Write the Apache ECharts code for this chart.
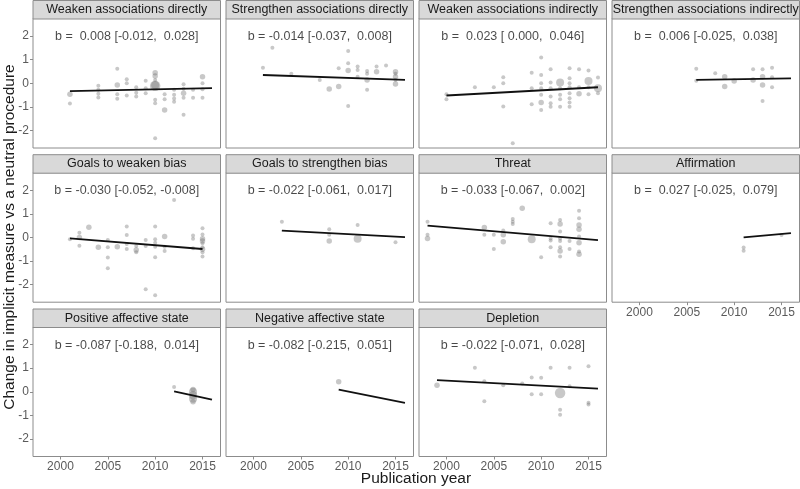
<!DOCTYPE html>
<html>
<head>
<meta charset="utf-8">
<script src="https://cdn.jsdelivr.net/npm/echarts@6/dist/echarts.min.js"></script>
<style>
html, body { margin: 0; padding: 0; background: #fff; }
#chart { width: 800px; height: 489px; }
</style>
</head>
<body>
<div id="chart"></div>
<script>
// panel titles, in facet order (4 columns)
var panelTitles = [
	'Weaken associations directly', 'Strengthen associations directly', 'Weaken associations indirectly', 'Strengthen associations indirectly',
	'Goals to weaken bias', 'Goals to strengthen bias', 'Threat', 'Affirmation',
	'Positive affective state', 'Negative affective state', 'Depletion'
];
var bEst  = [0.008, -0.014, 0.023, 0.006, -0.030, -0.022, -0.033, 0.027, -0.087, -0.082, -0.022];
var bLow  = [-0.012, -0.037, 0.000, -0.025, -0.052, -0.061, -0.067, -0.025, -0.188, -0.215, -0.071];
var bHigh = [0.028, 0.008, 0.046, 0.038, -0.008, 0.017, 0.002, 0.079, 0.014, 0.051, 0.028];

// fitted line end points [year, change]
var fitLines = [
	[[2001, -0.33], [2016, -0.21]],
	[[2001, 0.35], [2016, 0.14]],
	[[2000, -0.52], [2016, -0.17]],
	[[2006, 0.14], [2016, 0.21]],
	[[2001, -0.04], [2015, -0.49]],
	[[2003, 0.29], [2016, 0.01]],
	[[1998, 0.50], [2016, -0.11]],
	[[2011, 0.00], [2016, 0.18]],
	[[2012, 0.02], [2016, -0.33]],
	[[2009, 0.09], [2016, -0.47]],
	[[1999, 0.49], [2016, 0.13]]
];

var xTicks = [2000, 2005, 2010, 2015];
var yTicks = [-2, -1, 0, 1, 2];

// effect points: [year, change, weight class]
var weakenDirect = [
	[2001, -0.47, 2], [2001, -0.86, 1],
	[2004, -0.11, 1], [2004, -0.28, 1], [2004, -0.45, 1], [2004, -0.60, 1],
	[2006, 0.61, 1], [2006, -0.07, 2], [2006, -0.47, 1], [2006, -0.66, 1],
	[2007, 0.17, 1], [2007, 0.00, 1], [2007, -0.52, 1],
	[2008, -0.17, 1], [2008, -0.40, 1], [2008, -0.56, 1],
	[2009, 0.11, 1], [2009, -0.21, 1], [2009, -0.42, 1],
	[2010, 0.45, 2], [2010, 0.31, 2], [2010, 0.14, 1], [2010, -0.11, 4], [2010, -0.08, 3], [2010, -0.70, 1], [2010, -0.85, 1], [2010, -2.33, 1],
	[2011, -0.47, 1], [2011, -0.68, 1], [2011, -1.13, 2],
	[2012, -0.28, 1], [2012, -0.49, 1], [2012, -0.65, 1], [2012, -0.78, 1],
	[2013, -0.04, 1], [2013, -0.23, 1], [2013, -0.42, 2], [2013, -0.61, 1], [2013, -1.34, 1],
	[2014, -0.28, 1], [2014, -0.61, 1],
	[2015, 0.28, 2], [2015, 0.00, 1], [2015, -0.25, 1], [2015, -0.61, 1]
];
var strengthenDirect = [
	[2001, 0.66, 1], [2002, 1.51, 1], [2004, 0.40, 1], [2007, 0.14, 1], [2008, -0.24, 2],
	[2009, 0.64, 1], [2009, -0.14, 2],
	[2010, 1.37, 1], [2010, 0.85, 1], [2010, 0.54, 2], [2010, -0.96, 1],
	[2011, 0.71, 1], [2011, 0.56, 1], [2011, 0.28, 1],
	[2012, 0.52, 1], [2012, 0.40, 1], [2012, 0.14, 2], [2012, -0.28, 1],
	[2013, 0.71, 1], [2013, 0.49, 2],
	[2014, 0.75, 1],
	[2015, 0.49, 2], [2015, 0.40, 1], [2015, 0.28, 2], [2015, 0.14, 1], [2015, -0.03, 2]
];
var weakenIndirect = [
	[2000, -0.47, 1], [2000, -0.68, 1], [2003, -0.17, 1], [2005, -0.17, 1],
	[2006, 0.25, 1], [2006, 0.00, 1], [2006, -0.99, 1], [2007, -2.54, 1],
	[2009, 0.45, 1], [2009, -0.21, 1], [2009, -0.89, 1],
	[2010, 1.09, 1], [2010, 0.35, 1], [2010, 0.00, 1], [2010, -0.21, 1], [2010, -0.49, 1], [2010, -0.82, 2], [2010, -1.13, 1],
	[2011, 0.59, 1], [2011, 0.03, 1], [2011, -0.21, 1], [2011, -0.56, 1], [2011, -0.85, 1], [2011, -1.00, 1],
	[2012, 0.03, 3], [2012, -0.21, 1], [2012, -0.49, 1], [2012, -0.68, 1], [2012, -1.00, 1],
	[2013, 0.64, 1], [2013, 0.21, 1], [2013, 0.00, 1], [2013, -0.17, 1], [2013, -0.42, 1], [2013, -0.64, 1], [2013, -0.82, 1], [2013, -1.00, 1],
	[2014, 0.59, 1], [2014, -0.17, 1], [2014, -0.45, 2],
	[2015, 0.54, 1], [2015, 0.10, 3], [2015, -0.17, 1], [2015, -0.47, 1],
	[2016, 0.24, 1], [2016, -0.21, 3], [2016, -0.42, 1]
];
var strengthenIndirect = [
	[2006, 0.61, 1], [2006, 0.11, 1], [2008, 0.42, 1], [2009, 0.28, 2], [2009, -0.14, 2], [2010, 0.10, 2],
	[2012, 0.59, 1], [2012, 0.14, 2], [2013, 0.59, 1], [2013, 0.28, 2], [2013, -0.07, 2], [2013, -0.75, 1],
	[2014, 0.66, 1], [2014, 0.25, 1], [2014, -0.17, 1]
];
var goalsWeaken = [
	[2001, -0.08, 1], [2002, 0.20, 1], [2002, 0.00, 2], [2002, -0.35, 1], [2003, 0.43, 2], [2004, -0.42, 2],
	[2005, -0.11, 1], [2005, -0.42, 1], [2005, -0.85, 1], [2005, -1.31, 1], [2006, -0.39, 2],
	[2007, 0.46, 1], [2007, 0.10, 1], [2007, -0.28, 1], [2007, -0.49, 1],
	[2008, -0.36, 1], [2008, -0.53, 2], [2008, -0.63, 1],
	[2009, -0.11, 1], [2009, -0.36, 1], [2009, -2.20, 1],
	[2010, 0.46, 1], [2010, -0.08, 1], [2010, -0.22, 1], [2010, -0.39, 1], [2010, -0.84, 1], [2010, -2.45, 1],
	[2011, 0.04, 2], [2011, -0.39, 1], [2011, -0.57, 1],
	[2012, 1.59, 1],
	[2014, 0.08, 1], [2014, -0.06, 1], [2014, -0.46, 1],
	[2015, 0.39, 1], [2015, 0.13, 1], [2015, -0.06, 2], [2015, -0.15, 2], [2015, -0.25, 1], [2015, -0.42, 1], [2015, -0.50, 2], [2015, -0.63, 1], [2015, -0.81, 1]
];
var goalsStrengthen = [
	[2003, 0.67, 1], [2008, 0.35, 1], [2008, 0.11, 1], [2008, -0.15, 2], [2011, 0.53, 1], [2011, -0.06, 3], [2015, -0.20, 1]
];
var threat = [
	[1998, 0.67, 1], [1998, 0.11, 1], [1998, -0.04, 2],
	[2004, 0.42, 2], [2004, 0.11, 1], [2005, 0.11, 1], [2005, -0.49, 1],
	[2006, 0.29, 1], [2006, 0.11, 2], [2006, -0.18, 2],
	[2007, 0.78, 1], [2007, 0.67, 1], [2007, 0.57, 1], [2008, 1.24, 2], [2009, -0.08, 3], [2010, -0.84, 1],
	[2011, 0.60, 1], [2011, -0.04, 1], [2011, -0.13, 1], [2011, -0.42, 1],
	[2012, 0.74, 1], [2012, 0.57, 2], [2012, 0.25, 1], [2012, -0.04, 1], [2012, -0.15, 1], [2012, -0.42, 1], [2012, -0.57, 2], [2012, -0.81, 1],
	[2013, -0.15, 1], [2013, -0.49, 1],
	[2014, 1.13, 1], [2014, 0.81, 1], [2014, 0.53, 2], [2014, 0.35, 2], [2014, 0.04, 1], [2014, -0.22, 2], [2014, -0.60, 1], [2014, -0.71, 2]
];
var affirmation = [[2011, -0.43, 1], [2011, -0.56, 1], [2015, 0.10, 1]];
var positiveAffect = [[2012, 0.20, 1], [2014, 0.10, 2], [2014, 0.00, 3], [2014, -0.15, 3], [2014, -0.30, 3], [2014, -0.42, 2]];
var negativeAffect = [[2009, 0.42, 2]];
var depletion = [
	[1999, 0.28, 2], [2003, 1.02, 1], [2004, 0.44, 1], [2004, -0.40, 1], [2006, 0.28, 1], [2008, 0.35, 1],
	[2009, 0.60, 1], [2009, -0.11, 1], [2010, 0.59, 1], [2010, -0.11, 1], [2011, 1.02, 1],
	[2012, -0.05, 4], [2012, -0.76, 1], [2012, -0.97, 1], [2013, 1.02, 1], [2013, 0.23, 1],
	[2015, 1.08, 1], [2015, -0.47, 1], [2015, -0.54, 1]
];
var panelPoints = [weakenDirect, strengthenDirect, weakenIndirect, strengthenIndirect,
	goalsWeaken, goalsStrengthen, threat, affirmation, positiveAffect, negativeAffect, depletion];

// layout
var fontFamily = '"Liberation Sans", Arial, sans-serif';
var colLeft = [33, 226, 419, 612];
var rowTop = [0, 154.2, 308.5];
var panelW = 187.5, stripH = 18.5, panelH = 129.5;
var borderColor = '#8c8c8c';

function fmt(v) {
	var s = v.toFixed(3);
	return v >= 0 ? ' ' + s : s; // like sprintf("% .3f")
}
function pointSize(w) {
	return [0, 4, 5.5, 8, 10.5][w];
}

var chart = echarts.init(document.getElementById('chart'));
var grids = [], xAxes = [], yAxes = [], series = [], graphics = [];

panelTitles.forEach(function (title, i) {
	var col = i % 4, row = Math.floor(i / 4);
	var showX = (row === 2) || (col === 3 && row === 1);
	var showY = col === 0;
	grids.push({
		left: colLeft[col], top: rowTop[row] + stripH, width: panelW, height: panelH,
		show: true, borderColor: borderColor, borderWidth: 1, backgroundColor: '#fff'
	});
	xAxes.push({
		type: 'value', gridIndex: i, min: 1997.1, max: 2016.9, position: 'bottom',
		axisLine: { show: false, onZero: false }, splitLine: { show: false },
		axisTick: { show: showX, customValues: xTicks, length: 3, lineStyle: { color: borderColor } },
		axisLabel: {
			show: showX, customValues: xTicks, margin: 4, color: '#5a5a5a', fontSize: 12, fontFamily: fontFamily,
			formatter: function (v) { return String(v); }
		}
	});
	yAxes.push({
		type: 'value', gridIndex: i, min: -2.745, max: 2.745, position: 'left',
		axisLine: { show: false, onZero: false }, splitLine: { show: false },
		axisTick: { show: showY, customValues: yTicks, length: 3, lineStyle: { color: borderColor } },
		axisLabel: { show: showY, customValues: yTicks, margin: 4, color: '#5a5a5a', fontSize: 12, fontFamily: fontFamily }
	});
	series.push({
		type: 'scatter', xAxisIndex: i, yAxisIndex: i, silent: true,
		data: panelPoints[i],
		symbolSize: function (val) { return pointSize(val[2]); },
		itemStyle: { color: '#6e6e6e', opacity: 0.38 }
	});
	series.push({
		type: 'line', xAxisIndex: i, yAxisIndex: i, silent: true, z: 5,
		data: fitLines[i], symbol: 'none',
		lineStyle: { color: '#111', width: 1.8 }
	});
	series.push({
		type: 'scatter', xAxisIndex: i, yAxisIndex: i, silent: true, z: 6,
		data: [[2007, 1.97]], symbolSize: 1, itemStyle: { color: 'rgba(0,0,0,0)' },
		label: {
			show: true, position: 'inside', color: '#1a1a1a', fontSize: 12.5, fontFamily: fontFamily,
			formatter: 'b = ' + fmt(bEst[i]) + ' [' + fmt(bLow[i]) + ', ' + fmt(bHigh[i]) + ']'
		}
	});
	// facet strip
	graphics.push({
		type: 'rect', silent: true,
		shape: { x: colLeft[col], y: rowTop[row] + 0.5, width: panelW, height: stripH },
		style: { fill: '#d9d9d9', stroke: borderColor, lineWidth: 1 }
	});
	graphics.push({
		type: 'text', silent: true,
		x: colLeft[col] + panelW / 2, y: rowTop[row] + 0.5 + stripH / 2,
		style: { text: title, fill: '#1a1a1a', font: '12.5px ' + fontFamily, align: 'center', verticalAlign: 'middle' }
	});
});

graphics.push({
	type: 'text', silent: true, x: 10, y: 237, rotation: Math.PI / 2,
	style: { text: 'Change in implicit measure vs a neutral procedure', fill: '#1a1a1a', font: '15.5px ' + fontFamily, align: 'center', verticalAlign: 'middle' }
});
graphics.push({
	type: 'text', silent: true, x: 416, y: 479,
	style: { text: 'Publication year', fill: '#1a1a1a', font: '15.5px ' + fontFamily, align: 'center', verticalAlign: 'middle' }
});

chart.setOption({
	animation: false,
	backgroundColor: '#fff',
	grid: grids,
	xAxis: xAxes,
	yAxis: yAxes,
	series: series,
	graphic: graphics
});
</script>
</body>
</html>
